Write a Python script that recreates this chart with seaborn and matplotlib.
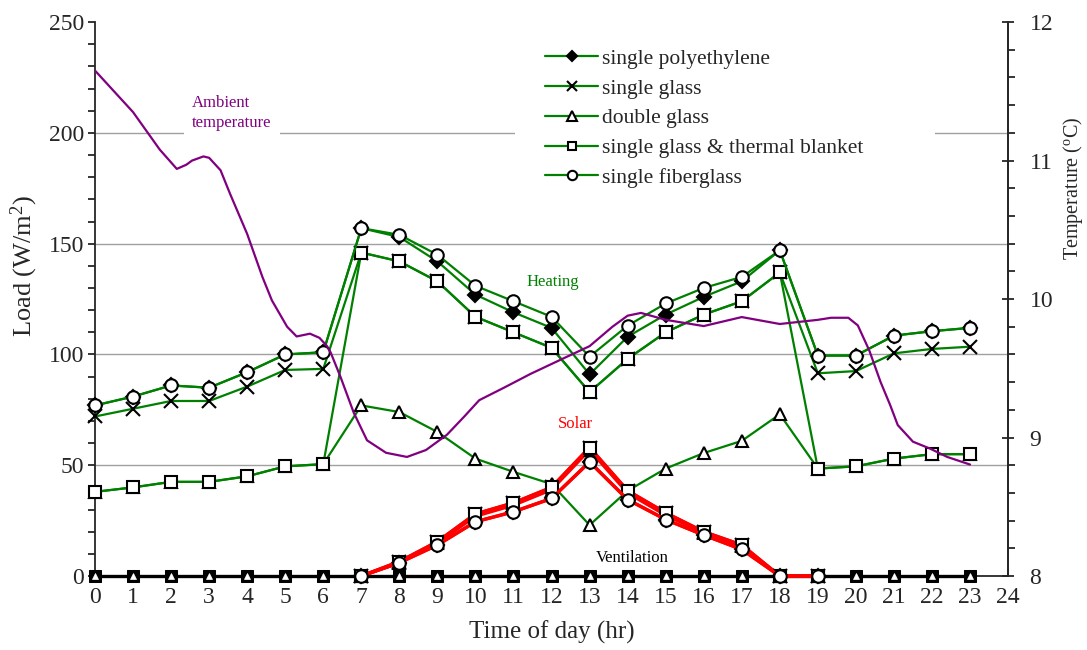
import numpy as np
import seaborn as sns
import matplotlib.pyplot as plt
from matplotlib.lines import Line2D
from matplotlib.ticker import MultipleLocator

hours = np.arange(24)

# heating load (W/m2)
heat_poly = [77, 81, 86, 85, 92, 100, 101, 157, 153, 142, 127, 119, 112, 91, 108, 118, 126, 133, 147, 99.5, 99.5, 108.5, 110.5, 112]
heat_glass = [72, 75.5, 79, 79, 85.5, 93, 93.5, 146, 142, 133, 117, 110, 103, 83, 98, 110, 118, 124, 137, 91.5, 92.5, 100.5, 102.5, 103.5]
heat_double = [38, 40, 42.5, 42.5, 45, 49.5, 50.5, 77, 74, 65, 53, 47, 41.5, 23, 38.5, 48.5, 55.5, 61, 73, 48.5, 49.5, 53, 55, 55]
heat_blanket = [38, 40, 42.5, 42.5, 45, 49.5, 50.5, 146, 142, 133, 117, 110, 103, 83, 98, 110, 118, 124, 137, 48.5, 49.5, 53, 55, 55]
heat_fiber = [77, 81, 86, 85, 92, 100, 101, 157, 154, 145, 131, 124, 117, 99, 113, 123, 130, 135, 147, 99.5, 99.5, 108.5, 110.5, 112]

# solar gain (W/m2), only daytime hours
nan = np.nan
solar_poly = [nan] * 7 + [0, 6, 14, 24.5, 29, 35, 51.5, 34.5, 25.5, 18.5, 12, 0, 0] + [nan] * 4
solar_glass = [nan] * 7 + [0, 6.5, 15.5, 28, 33, 40, 58, 38.5, 28.5, 20, 14, 0, 0] + [nan] * 4
solar_double = [nan] * 7 + [0, 6, 15, 27, 32, 39, 57, 37.5, 27.5, 19.5, 13.5, 0, 0] + [nan] * 4
solar_blanket = [nan] * 7 + [0, 6.5, 15.5, 28, 33, 40, 58, 38.5, 28.5, 20, 14, 0, 0] + [nan] * 4
solar_fiber = [nan] * 7 + [0, 6, 14, 24.5, 29, 35, 51.5, 34.5, 25.5, 18.5, 12, 0, 0] + [nan] * 4

# ventilation load (W/m2)
vent = [0] * 24

# ambient temperature (C)
amb_hour = [0.0, 0.5, 1.0, 1.7, 2.15, 2.4, 2.55, 2.85, 3.0, 3.3, 3.55, 4.0, 4.4, 4.65, 5.05, 5.3, 5.65, 5.9,
            6.1, 6.2, 6.45, 6.8, 7.15, 7.65, 8.2, 8.7, 9.25, 9.7, 10.1, 10.75, 11.45, 12.3, 13.0, 13.6, 14.0,
            14.35, 15.0, 16.0, 17.0, 18.0, 19.0, 19.35, 19.8, 20.05, 20.35, 20.65, 20.9, 21.1, 21.5, 21.95,
            22.4, 23.0]
amb_temp = [11.65, 11.50, 11.35, 11.08, 10.94, 10.97, 11.00, 11.03, 11.02, 10.93, 10.76, 10.47, 10.16, 9.99,
            9.80, 9.73, 9.75, 9.72, 9.66, 9.61, 9.44, 9.18, 8.98, 8.89, 8.86, 8.91, 9.02, 9.15, 9.27, 9.36,
            9.46, 9.57, 9.66, 9.80, 9.88, 9.90, 9.85, 9.805, 9.87, 9.82, 9.85, 9.865, 9.865, 9.81, 9.63, 9.40,
            9.235, 9.09, 8.97, 8.92, 8.86, 8.805]

names = ["single polyethylene", "single glass", "double glass",
         "single glass & thermal blanket", "single fiberglass"]

GREEN = "#008000"
PURPLE = "#800080"
RED = "#ff0000"

sns.set_style("ticks")
plt.rcParams["font.family"] = ["Liberation Serif", "DejaVu Serif"]
plt.rcParams["mathtext.fontset"] = "custom"
plt.rcParams["mathtext.rm"] = "Liberation Serif"

fig, ax = plt.subplots(figsize=(10.87, 6.5), dpi=100)
fig.subplots_adjust(left=0.0874, right=0.9274, top=0.966, bottom=0.1138)
ax2 = ax.twinx()

# marker styles per covering
mk = [dict(marker="D", markersize=7, markerfacecolor="black"),
      dict(marker="x", markersize=10, markeredgewidth=1.5),
      dict(marker="^", markersize=9, markerfacecolor="white"),
      dict(marker="s", markersize=8, markerfacecolor="white"),
      dict(marker="o", markersize=9, markerfacecolor="white")]
for m in mk:
    m.setdefault("markeredgewidth", 1.5)
    m["markeredgecolor"] = "black"

# ventilation
sns.lineplot(x=hours, y=vent, ax=ax, color="black", linewidth=2.4, marker="s", markersize=8,
             markerfacecolor="black", markeredgecolor="black", legend=False, clip_on=False, zorder=4)
sns.lineplot(x=hours, y=vent, ax=ax, color="black", linestyle="", marker="^", markersize=5,
             markerfacecolor="white", markeredgecolor="white", markeredgewidth=0.5, legend=False,
             clip_on=False, zorder=4)

# heating
for vals, m in zip([heat_poly, heat_glass, heat_double, heat_blanket, heat_fiber], mk):
    sns.lineplot(x=hours, y=vals, ax=ax, color=GREEN, linewidth=1.6, legend=False,
                 clip_on=False, zorder=5, **m)

# solar
for vals, m in zip([solar_poly, solar_glass, solar_double, solar_blanket, solar_fiber], mk):
    sns.lineplot(x=hours, y=vals, ax=ax, color=RED, linewidth=2.4, legend=False,
                 clip_on=False, zorder=6, **m)

# ambient temperature
sns.lineplot(x=amb_hour, y=amb_temp, ax=ax2, color=PURPLE, linewidth=1.6, legend=False, sort=False)

ax.set_xlim(0, 24)
ax.set_ylim(0, 250)
ax2.set_ylim(8, 12)
ax.xaxis.set_major_locator(MultipleLocator(1))
ax.yaxis.set_major_locator(MultipleLocator(50))
ax.yaxis.set_minor_locator(MultipleLocator(10))
ax2.yaxis.set_major_locator(MultipleLocator(1))
ax2.yaxis.set_minor_locator(MultipleLocator(0.2))

# gridlines at inner major ticks only
lo, hi = ax.get_ylim()
for v in ax.get_yticks():
    if lo < v < hi:
        ax.axhline(v, color="#a0a0a0", linewidth=1, zorder=1)

for a in (ax, ax2):
    a.spines["top"].set_visible(False)
    for s in a.spines.values():
        s.set_linewidth(1.3)
ax2.spines["left"].set_visible(False)
ax2.spines["bottom"].set_visible(False)

ax.tick_params(axis="x", length=0, pad=8, labelsize=17)
ax.tick_params(axis="y", which="major", direction="out", length=5, width=1.3, pad=3, labelsize=17)
ax.tick_params(axis="y", which="minor", direction="out", length=5, width=1.3)
ax2.tick_params(axis="y", which="major", direction="inout", length=9, width=1.3, pad=11, labelsize=17)
ax2.tick_params(axis="y", which="minor", direction="out", length=5, width=1.3)

ax.set_xlabel("Time of day (hr)", fontsize=18, labelpad=9)
ax.set_ylabel(r"Load (W/m$\mathregular{^2}$)", fontsize=19)
ax.yaxis.set_label_coords(-0.06, 0.56)
ax2.set_ylabel(r"Temperature ($\mathregular{^o}$C)", fontsize=14.5)
ax2.yaxis.set_label_coords(1.058, 0.70)

# annotations
ax.text(2.55, 209, "Ambient\ntemperature", color=PURPLE, fontsize=12, ha="left", va="center",
        linespacing=1.3, bbox=dict(facecolor="white", edgecolor="none", pad=6), zorder=3)
ax.text(12.04, 132.5, "Heating", color=GREEN, fontsize=12, ha="center", va="center", zorder=7)
ax.text(12.62, 68.5, "Solar", color=RED, fontsize=12, ha="center", va="center", zorder=7)
ax.text(14.12, 8, "Ventilation", color="black", fontsize=12, ha="center", va="center", zorder=7)

handles = [Line2D([], [], color=GREEN, linewidth=1.6, **m) for m in mk]
leg = ax2.legend(handles, names, loc="upper left", bbox_to_anchor=(0.46, 1.006, 0.46, 0.0),
                 mode="expand", fontsize=15.5, frameon=True, framealpha=1, edgecolor="none",
                 facecolor="white", fancybox=False, borderpad=1.4, borderaxespad=0,
                 handlelength=2.45, handletextpad=0.2, labelspacing=0.45, markerscale=0.75)

fig.savefig("out.png", dpi=100)
